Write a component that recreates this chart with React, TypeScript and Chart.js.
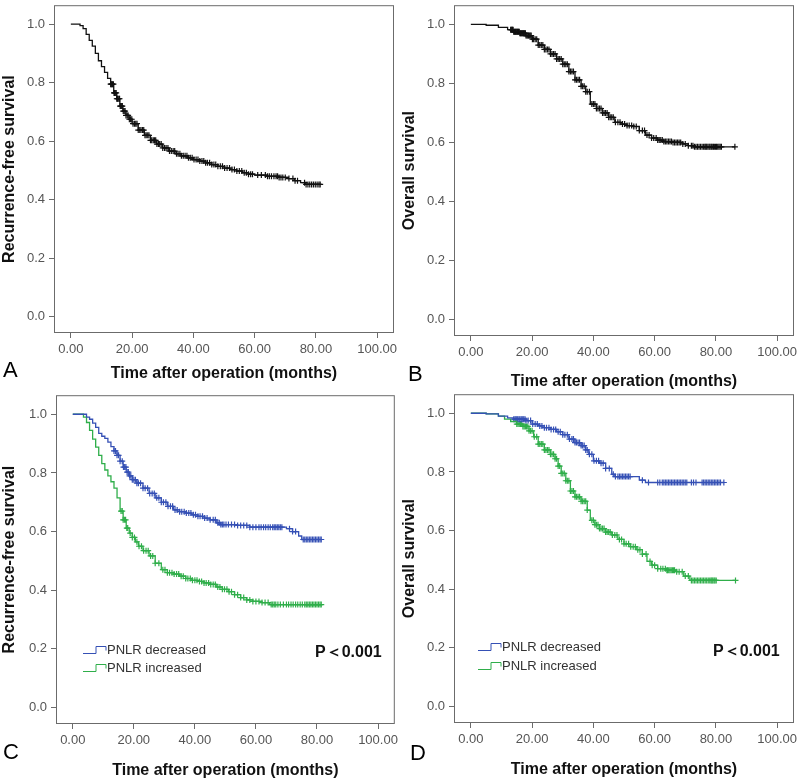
import React, { useEffect, useRef } from "react";
import { Chart, registerables } from "chart.js";

Chart.register(...registerables);

// ---------- shared labels / ticks ----------
const X_TICKS = [0, 20, 40, 60, 80, 100];
const Y_TICKS = [0, 0.2, 0.4, 0.6, 0.8, 1.0];
const X_TITLE = "Time after operation (months)";
const SERIES_NAMES = ["PNLR decreased", "PNLR increased"];
const P_TEXT = "P＜0.001";

// ---------- Panel A: recurrence-free survival, all patients ----------
const rfsAllTime = [0, 2, 3, 4, 5, 6, 7, 8, 9, 10, 11, 12, 13, 14, 15, 16, 17, 18, 19, 20, 22, 24, 26, 28, 30, 32, 34, 36, 38, 40, 42, 44, 46, 48, 50, 52, 54, 56, 58, 60, 64, 68, 71, 73, 75, 76.5, 81.4];
const rfsAllSurv = [1.0, 1.0, 0.995, 0.985, 0.965, 0.945, 0.925, 0.9, 0.875, 0.855, 0.835, 0.815, 0.795, 0.765, 0.745, 0.72, 0.703, 0.688, 0.675, 0.66, 0.638, 0.62, 0.603, 0.59, 0.577, 0.566, 0.557, 0.55, 0.543, 0.537, 0.532, 0.526, 0.52, 0.514, 0.508, 0.503, 0.498, 0.492, 0.487, 0.484, 0.48, 0.476, 0.472, 0.465, 0.458, 0.452, 0.452];
const rfsAllCensor = [13.0, 13.2, 13.4, 13.6, 13.9, 14.1, 14.3, 14.5, 14.8, 15.0, 15.2, 15.4, 15.7, 15.9, 16.1, 16.3, 16.6, 16.8, 17.1, 17.4, 17.7, 18.0, 18.4, 18.7, 19.1, 19.5, 19.9, 20.3, 20.8, 21.2, 21.6, 22.0, 22.5, 22.9, 23.4, 23.8, 24.2, 24.6, 25.1, 25.5, 26.0, 26.4, 26.9, 27.3, 27.7, 28.1, 28.6, 29.0, 29.5, 30.0, 30.6, 31.1, 31.7, 32.2, 32.8, 33.4, 33.9, 34.5, 35.0, 35.6, 36.1, 36.7, 37.3, 37.9, 38.4, 39.0, 39.6, 40.2, 40.9, 41.5, 42.1, 42.8, 43.4, 44.0, 44.6, 45.3, 46.0, 46.7, 47.3, 48.0, 48.8, 49.5, 50.2, 51.0, 51.8, 52.6, 53.4, 54.2, 55.0, 55.8, 56.6, 57.3, 58.0, 58.7, 59.3, 61.0, 62.2, 63.5, 64.2, 64.8, 65.5, 66.3, 67.0, 67.5, 68.0, 68.6, 69.2, 70.0, 71.2, 72.5, 73.2, 74.0, 76.3, 76.8, 77.4, 78.0, 78.6, 79.2, 79.8, 80.4, 81.0, 81.4];

// ---------- Panel B: overall survival, all patients ----------
const osAllTime = [0, 5, 9, 12, 14, 16, 18, 20, 22, 24, 26, 28, 30, 32, 34, 36, 37.5, 39, 41, 43, 45, 47, 49, 51, 53, 55, 57, 59, 61, 63, 66, 69, 71, 73, 86.2];
const osAllSurv = [1.0, 0.997, 0.99, 0.982, 0.975, 0.97, 0.962, 0.95, 0.93, 0.915, 0.9, 0.883, 0.865, 0.84, 0.812, 0.79, 0.772, 0.73, 0.715, 0.7, 0.685, 0.668, 0.662, 0.657, 0.654, 0.64, 0.625, 0.615, 0.608, 0.603, 0.6, 0.595, 0.589, 0.585, 0.585];
const osAllCensor = [13.0, 13.2, 13.4, 13.6, 13.8, 14.0, 14.2, 14.4, 14.6, 14.8, 15.0, 15.2, 15.4, 15.6, 15.8, 16.0, 16.2, 16.4, 16.6, 16.8, 17.0, 17.2, 17.4, 17.6, 17.8, 18.0, 18.3, 18.6, 18.8, 19.1, 19.4, 19.7, 20.1, 20.5, 21.0, 21.5, 22.0, 22.5, 23.0, 23.5, 24.0, 24.5, 25.0, 25.5, 26.0, 26.5, 27.0, 27.5, 28.0, 28.5, 29.0, 29.5, 30.0, 30.5, 31.0, 31.5, 32.0, 32.5, 33.0, 33.5, 34.0, 34.5, 35.0, 35.5, 36.0, 36.5, 37.0, 37.5, 38.0, 38.7, 39.5, 40.0, 40.5, 41.0, 41.5, 42.0, 42.5, 43.0, 43.5, 44.0, 44.5, 45.0, 45.5, 46.0, 46.5, 47.2, 48.0, 48.7, 49.5, 50.2, 51.0, 51.7, 52.5, 53.2, 54.0, 55.0, 56.0, 56.7, 57.5, 58.2, 59.0, 59.7, 60.5, 61.0, 61.5, 62.0, 62.5, 63.0, 63.5, 64.0, 64.5, 65.0, 65.5, 66.0, 66.5, 67.0, 67.5, 68.0, 68.5, 69.2, 70.0, 71.0, 72.0, 72.5, 73.0, 73.5, 74.0, 74.5, 75.0, 75.5, 76.0, 76.4, 76.7, 77.0, 77.4, 77.8, 78.1, 78.5, 78.8, 79.2, 79.5, 79.9, 80.2, 80.6, 81.0, 81.4, 81.8, 86.2];

// ---------- Panel C: recurrence-free survival by PNLR ----------
const rfsDecTime = [0, 3, 4.5, 5.5, 6.5, 7.5, 8.5, 9.5, 10.5, 11.5, 12.5, 13.5, 14.5, 15.5, 16.5, 17.5, 18.5, 19.5, 21, 23, 25, 27, 29, 31, 33, 35, 37, 39, 41, 43, 45, 47, 48.5, 54, 58, 68, 70, 72, 74, 75, 81.4];
const rfsDecSurv = [1.0, 1.0, 0.99, 0.983, 0.97, 0.955, 0.935, 0.925, 0.918, 0.905, 0.89, 0.875, 0.86, 0.84, 0.82, 0.803, 0.79, 0.777, 0.765, 0.748, 0.73, 0.715, 0.7, 0.686, 0.674, 0.668, 0.663, 0.657, 0.652, 0.646, 0.64, 0.63, 0.624, 0.621, 0.615, 0.615, 0.61, 0.6, 0.585, 0.573, 0.573];
const rfsDecCensor = [13.5, 14.0, 14.5, 15.0, 15.5, 16.2, 16.6, 17.0, 17.4, 17.8, 18.2, 18.6, 19.0, 19.5, 20.0, 20.5, 21.0, 21.5, 22.2, 23.0, 23.7, 24.5, 25.2, 26.0, 26.7, 27.5, 28.2, 29.0, 29.7, 30.5, 31.2, 32.0, 32.7, 33.5, 34.2, 35.0, 35.7, 36.5, 37.2, 38.0, 38.7, 39.5, 40.2, 41.0, 41.7, 42.5, 43.2, 44.0, 45.0, 46.0, 46.7, 47.5, 48.0, 48.5, 49.0, 49.5, 50.2, 51.0, 52.0, 53.0, 54.0, 55.0, 56.0, 57.0, 58.0, 59.0, 60.0, 61.0, 61.7, 62.5, 63.2, 64.0, 64.7, 65.5, 66.0, 66.5, 67.0, 67.5, 68.0, 68.5, 71.0, 72.0, 73.0, 75.5, 76.0, 76.5, 77.0, 77.5, 78.0, 78.5, 79.0, 79.5, 80.0, 80.5, 81.0, 81.4];
const rfsIncTime = [0, 2, 3.5, 4.5, 5.5, 6.5, 7.5, 8.5, 9.5, 10.5, 11.5, 12.5, 13.5, 14.5, 15.5, 16.5, 17.5, 18.5, 19.5, 20.5, 21.5, 23, 25, 27, 29, 31, 33, 35, 37, 39, 41, 43, 45, 47, 49, 51, 53, 55, 57, 59, 62, 64.5, 81.4];
const rfsIncSurv = [1.0, 1.0, 0.99, 0.972, 0.945, 0.915, 0.888, 0.86, 0.832, 0.81, 0.79, 0.77, 0.748, 0.715, 0.67, 0.64, 0.612, 0.595, 0.58, 0.565, 0.55, 0.535, 0.517, 0.492, 0.47, 0.46, 0.455, 0.448, 0.44, 0.434, 0.43, 0.425, 0.42, 0.411, 0.403, 0.395, 0.385, 0.375, 0.367, 0.362, 0.358, 0.351, 0.351];
const rfsIncCensor = [15.8, 16.2, 16.5, 16.9, 17.3, 17.7, 18.0, 18.8, 19.5, 20.2, 21.0, 21.7, 22.5, 23.2, 24.0, 24.7, 25.5, 26.2, 27.0, 28.2, 29.5, 30.2, 31.0, 31.7, 32.5, 33.2, 34.0, 34.7, 35.5, 36.2, 37.0, 37.7, 38.5, 39.2, 40.0, 40.7, 41.5, 42.2, 43.0, 43.7, 44.5, 45.2, 46.0, 46.7, 47.5, 48.2, 49.0, 49.7, 50.5, 51.2, 52.0, 53.0, 54.0, 55.0, 56.0, 57.0, 58.0, 59.0, 60.0, 61.0, 62.0, 63.0, 64.0, 65.0, 65.5, 66.0, 66.5, 67.2, 68.0, 69.0, 70.0, 70.7, 71.5, 72.2, 73.0, 73.7, 74.5, 75.2, 76.0, 76.5, 77.0, 77.5, 78.0, 78.5, 79.0, 79.5, 80.0, 80.5, 81.0, 81.4];

// ---------- Panel D: overall survival by PNLR ----------
const osDecTime = [0, 5, 9, 12, 14, 18, 20, 22, 24, 26, 28, 30, 32, 34, 36, 37.5, 38.5, 40, 42, 44, 46, 47, 53, 55, 57, 82.6];
const osDecSurv = [1.0, 0.998, 0.99, 0.984, 0.98, 0.975, 0.963, 0.957, 0.951, 0.945, 0.937, 0.927, 0.912, 0.9, 0.89, 0.875, 0.86, 0.838, 0.83, 0.812, 0.792, 0.784, 0.784, 0.772, 0.764, 0.764];
const osDecCensor = [14.0, 14.4, 14.7, 15.0, 15.3, 15.7, 16.0, 16.4, 16.7, 17.0, 17.3, 17.7, 18.0, 18.7, 19.5, 20.2, 21.0, 21.7, 22.5, 23.2, 24.0, 24.7, 25.5, 26.2, 27.0, 27.7, 28.5, 29.2, 30.0, 30.7, 31.5, 32.2, 33.0, 33.5, 34.0, 34.5, 35.0, 35.5, 36.0, 36.5, 37.0, 37.5, 38.0, 38.7, 39.5, 40.2, 41.0, 41.7, 42.5, 43.2, 44.0, 45.2, 46.5, 47.2, 48.0, 48.5, 49.0, 49.5, 50.0, 50.5, 51.0, 51.5, 52.0, 56.0, 58.0, 61.0, 61.7, 62.5, 63.0, 63.5, 64.0, 64.5, 65.0, 65.5, 66.0, 66.5, 67.0, 67.5, 68.0, 68.5, 69.0, 69.5, 70.0, 70.5, 72.0, 72.7, 73.5, 75.5, 76.0, 76.5, 77.0, 77.5, 78.0, 78.5, 79.0, 79.5, 80.0, 80.5, 81.0, 81.5, 82.6];
const osIncTime = [0, 5, 9, 11, 13, 15, 17, 19, 20.5, 22, 24, 26, 27.5, 28.5, 29.5, 31, 32.5, 34, 36, 38, 39, 40.5, 42, 44, 46, 48, 50, 52, 54, 56, 57.5, 59, 61, 64, 67, 69.5, 71.5, 86.4];
const osIncSurv = [1.0, 0.998, 0.99, 0.98, 0.972, 0.963, 0.955, 0.94, 0.92, 0.895, 0.875, 0.86, 0.845, 0.82, 0.795, 0.77, 0.735, 0.715, 0.7, 0.67, 0.635, 0.62, 0.607, 0.595, 0.585, 0.57, 0.555, 0.545, 0.535, 0.52, 0.495, 0.482, 0.47, 0.465, 0.46, 0.445, 0.43, 0.43];
const osIncCensor = [15.0, 15.4, 15.8, 16.2, 16.6, 17.0, 17.4, 17.8, 18.2, 18.6, 19.0, 19.5, 20.0, 20.7, 21.5, 22.0, 22.5, 23.0, 23.5, 24.0, 24.5, 25.0, 25.5, 26.0, 26.5, 27.0, 27.5, 28.0, 28.5, 29.0, 29.5, 30.0, 30.5, 31.0, 31.5, 32.0, 32.5, 33.0, 33.5, 34.0, 34.5, 35.0, 35.5, 36.0, 36.5, 37.0, 37.5, 38.0, 39.5, 40.0, 40.5, 41.0, 41.5, 42.0, 42.5, 43.0, 43.5, 44.0, 44.5, 45.0, 45.5, 46.2, 47.0, 47.7, 48.5, 49.2, 50.0, 50.7, 51.5, 52.2, 53.0, 53.7, 54.5, 55.2, 56.0, 57.2, 58.5, 59.2, 60.0, 61.0, 62.0, 62.7, 63.5, 64.0, 64.2, 64.6, 65.0, 65.4, 65.8, 66.2, 66.5, 67.2, 68.0, 69.0, 70.0, 71.0, 72.0, 72.5, 73.0, 73.5, 74.0, 74.5, 75.0, 75.5, 76.0, 76.5, 77.0, 77.5, 78.0, 78.4, 78.7, 79.0, 79.4, 79.7, 80.1, 86.4];

// ---------- styling ----------
const FONT = "'Liberation Sans', Arial, Helvetica, sans-serif";
const AXIS_COLOR = "#6b6b6b";
const TICK_COLOR = "#555555";
const BLACK = "#111111";
const BLUE = "#3550b5";
const GREEN = "#2fae4a";
const X_MIN = -5.5;
const X_MAX = 105.5;
const Y_MIN = -0.056;
const Y_MAX = 1.065;

type Curve = { time: number[]; surv: number[]; censor: number[]; color: string };
type PanelCfg = {
  left: number; top: number; w: number; h: number;
  padTop: number; padRight: number; yAxisW: number; xAxisH: number; titlePad: number;
  yTitle: string; letter: string; letterX: number; letterY: number;
  curves: Curve[];
  legend?: { iconX: number; rowY: number[] };
  pPos?: { x: number; y: number };
};

function survAt(time: number[], surv: number[], t: number) {
  let s = surv[0];
  for (let i = 0; i < time.length; i++) {
    if (time[i] <= t) s = surv[i];
    else break;
  }
  return s;
}

function decorPlugin(cfg: PanelCfg) {
  return {
    id: "decor" + cfg.letter,
    afterDatasetsDraw(chart: any) {
      const { ctx, chartArea: a } = chart;
      ctx.save();
      ctx.strokeStyle = AXIS_COLOR;
      ctx.lineWidth = 1;
      ctx.strokeRect(a.left + 0.5, a.top + 0.5, a.right - a.left - 1, a.bottom - a.top - 1);
      ctx.fillStyle = "#000";
      ctx.font = `22px ${FONT}`;
      ctx.textBaseline = "middle";
      ctx.textAlign = "left";
      ctx.fillText(cfg.letter, cfg.letterX, cfg.letterY);
      if (cfg.legend) {
        const L = cfg.legend;
        cfg.curves.forEach((c, i) => {
          const y = L.rowY[i];
          ctx.strokeStyle = c.color;
          ctx.lineWidth = 1;
          ctx.beginPath();
          ctx.moveTo(L.iconX, y + 3.5);
          ctx.lineTo(L.iconX + 13, y + 3.5);
          ctx.lineTo(L.iconX + 13, y - 3.5);
          ctx.lineTo(L.iconX + 23, y - 3.5);
          ctx.lineTo(L.iconX + 23, y + 0.5);
          ctx.stroke();
          ctx.fillStyle = "#333";
          ctx.font = `13px ${FONT}`;
          ctx.textAlign = "left";
          ctx.textBaseline = "middle";
          ctx.fillText(SERIES_NAMES[i], L.iconX + 24, y);
        });
      }
      if (cfg.pPos) {
        ctx.fillStyle = "#111";
        ctx.font = `bold 16px ${FONT}`;
        ctx.textAlign = "left";
        ctx.textBaseline = "middle";
        ctx.fillText(P_TEXT, cfg.pPos.x, cfg.pPos.y);
      }
      ctx.restore();
    },
  };
}

function buildConfig(cfg: PanelCfg): any {
  const datasets: any[] = [];
  cfg.curves.forEach((c) => {
    datasets.push({
      data: c.time.map((t, i) => ({ x: t, y: c.surv[i] })),
      showLine: true,
      stepped: "before",
      borderColor: c.color,
      borderWidth: 1.3,
      pointRadius: 0,
      fill: false,
    });
  });
  cfg.curves.forEach((c) => {
    datasets.push({
      data: c.censor.map((t) => ({ x: t, y: survAt(c.time, c.surv, t) })),
      showLine: false,
      pointStyle: "cross",
      pointRadius: 3,
      pointBorderWidth: 1.2,
      pointBorderColor: c.color,
      pointBackgroundColor: c.color,
    });
  });
  const tickFont = { family: FONT, size: 13 };
  const titleFont = { family: FONT, size: 16, weight: "bold" };
  return {
    type: "scatter",
    data: { datasets },
    options: {
      animation: false,
      responsive: false,
      events: [],
      layout: { padding: { top: cfg.padTop, right: cfg.padRight, left: 0, bottom: 0 } },
      plugins: { legend: { display: false }, tooltip: { enabled: false }, title: { display: false } },
      scales: {
        x: {
          type: "linear",
          position: "bottom",
          min: X_MIN,
          max: X_MAX,
          afterBuildTicks: (s: any) => { s.ticks = X_TICKS.map((v) => ({ value: v })); },
          afterFit: (s: any) => { s.height = cfg.xAxisH; s.paddingLeft = 0; s.paddingRight = 0; },
          grid: { display: true, drawOnChartArea: false, drawTicks: true, tickLength: 5, color: AXIS_COLOR, lineWidth: 1 },
          border: { display: false },
          ticks: { padding: 4, color: TICK_COLOR, font: tickFont, maxRotation: 0, autoSkip: false, callback: (v: any) => Number(v).toFixed(2) },
          title: { display: true, text: X_TITLE, color: "#111", font: titleFont, padding: { top: 0, bottom: cfg.titlePad } },
        },
        y: {
          type: "linear",
          position: "left",
          min: Y_MIN,
          max: Y_MAX,
          afterBuildTicks: (s: any) => { s.ticks = Y_TICKS.map((v) => ({ value: v })); },
          afterFit: (s: any) => { s.width = cfg.yAxisW; s.paddingTop = 0; s.paddingBottom = 0; },
          grid: { display: true, drawOnChartArea: false, drawTicks: true, tickLength: 5, color: AXIS_COLOR, lineWidth: 1 },
          border: { display: false },
          ticks: { padding: 4, color: TICK_COLOR, font: tickFont, autoSkip: false, callback: (v: any) => Number(v).toFixed(1) },
          title: { display: true, text: cfg.yTitle, color: "#111", font: titleFont, padding: { top: 0, bottom: 0 } },
        },
      },
    },
    plugins: [decorPlugin(cfg)],
  };
}

const PANELS: PanelCfg[] = [
  {
    left: 0, top: 0, w: 400, h: 390, padTop: 0, padRight: 6, yAxisW: 54, xAxisH: 57, titlePad: 7,
    yTitle: "Recurrence-free survival", letter: "A", letterX: 3, letterY: 371,
    curves: [{ time: rfsAllTime, surv: rfsAllSurv, censor: rfsAllCensor, color: BLACK }],
  },
  {
    left: 400, top: 0, w: 400, h: 397, padTop: 3, padRight: 6, yAxisW: 54, xAxisH: 61, titlePad: 6,
    yTitle: "Overall survival", letter: "B", letterX: 8, letterY: 375,
    curves: [{ time: osAllTime, surv: osAllSurv, censor: osAllCensor, color: BLACK }],
  },
  {
    left: 0, top: 390, w: 400, h: 393, padTop: 1, padRight: 4, yAxisW: 56, xAxisH: 59, titlePad: 3,
    yTitle: "Recurrence-free survival", letter: "C", letterX: 3, letterY: 363,
    curves: [
      { time: rfsDecTime, surv: rfsDecSurv, censor: rfsDecCensor, color: BLUE },
      { time: rfsIncTime, surv: rfsIncSurv, censor: rfsIncCensor, color: GREEN },
    ],
    legend: { iconX: 83, rowY: [260, 278] },
    pPos: { x: 315, y: 263 },
  },
  {
    left: 400, top: 389, w: 400, h: 394, padTop: 1, padRight: 6, yAxisW: 54, xAxisH: 60, titlePad: 4,
    yTitle: "Overall survival", letter: "D", letterX: 10, letterY: 365,
    curves: [
      { time: osDecTime, surv: osDecSurv, censor: osDecCensor, color: BLUE },
      { time: osIncTime, surv: osIncSurv, censor: osIncCensor, color: GREEN },
    ],
    legend: { iconX: 78, rowY: [258, 277] },
    pPos: { x: 313, y: 263 },
  },
];

function Panel({ cfg }: { cfg: PanelCfg }) {
  const ref = useRef<HTMLCanvasElement>(null);
  useEffect(() => {
    if (!ref.current) return;
    const chart = new Chart(ref.current, buildConfig(cfg));
    return () => chart.destroy();
  }, [cfg]);
  return (
    <canvas
      ref={ref}
      width={cfg.w}
      height={cfg.h}
      style={{ position: "absolute", left: cfg.left, top: cfg.top, width: cfg.w, height: cfg.h }}
    />
  );
}

export default function App() {
  return (
    <div style={{ position: "absolute", left: 0, top: 0, width: 800, height: 783, overflow: "hidden", background: "#fff" }}>
      {PANELS.map((p) => (
        <Panel key={p.letter} cfg={p} />
      ))}
    </div>
  );
}
